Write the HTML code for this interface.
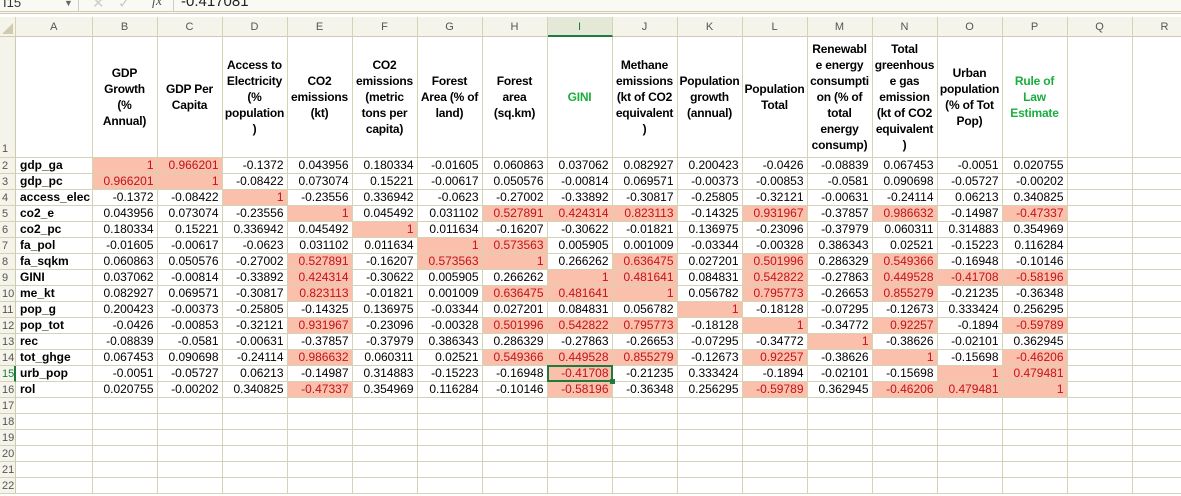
<!DOCTYPE html>
<html><head><meta charset="utf-8">
<style>
body{margin:0;width:1181px;height:496px;overflow:hidden;background:#fff;font-family:"Liberation Sans",Arial,sans-serif;position:relative}
.a{position:absolute;box-sizing:border-box}
.cell{border-right:1px solid #d6d2b4;border-bottom:1px solid #d6d2b4;font-size:12px;line-height:15px;text-align:right;padding-right:3px;white-space:nowrap;overflow:hidden}
.hi{background:#fbc0ab;color:#c0121c}
.ch{background:#f4f4ea;border-right:1px solid #d6d2b4;border-bottom:1px solid #cfcbb0;font-size:11px;color:#555;text-align:center;line-height:20px}
.rh{background:#f4f4ea;border-right:1px solid #cfcbb0;border-bottom:1px solid #d6d2b4;font-size:11px;color:#555;text-align:left;padding-left:2px;line-height:16px}
.hd{border-right:1px solid #d6d2b4;border-bottom:1px solid #d6d2b4;font-size:12px;font-weight:bold;line-height:16px;text-align:center;display:flex;align-items:center;justify-content:center;letter-spacing:-0.2px}
</style></head><body>
<div class="a" style="left:0;top:0;width:1181px;height:14px;background:#fafaf5;border-bottom:3px double #cfcbb0;overflow:hidden">
 <div class="a" style="left:3px;top:-5px;font-size:13px;color:#333">I15</div>
 <div class="a" style="left:64px;top:-2px;font-size:9px;color:#666">▼</div>
 <div class="a" style="left:78px;top:0;width:1px;height:14px;background:#ccc"></div>
 <div class="a" style="left:92px;top:-6px;font-size:15px;color:#ccc">✕</div>
 <div class="a" style="left:118px;top:-6px;font-size:15px;color:#ccc">✓</div>
 <div class="a" style="left:152px;top:-6px;font-size:14px;font-style:italic;color:#555;font-family:'Liberation Serif',serif">fx</div>
 <div class="a" style="left:173px;top:0;width:1px;height:14px;background:#ccc"></div>
 <div class="a" style="left:181px;top:-7px;font-size:15px;color:#222">-0.417081</div>
</div>
<div id="sheet"></div>
<script>
const cols=["A","B","C","D","E","F","G","H","I","J","K","L","M","N","O","P","Q","R"];
const headers=["GDP<br>Growth<br>(%<br>Annual)","GDP Per<br>Capita","Access to<br>Electricity<br>(%<br>population<br>)","CO2<br>emissions<br>(kt)","CO2<br>emissions<br>(metric<br>tons per<br>capita)","Forest<br>Area (% of<br>land)","Forest<br>area<br>(sq.km)","GINI","Methane<br>emissions<br>(kt of CO2<br>equivalent<br>)","Population<br>growth<br>(annual)","Population<br>Total","Renewabl<br>e energy<br>consumpti<br>on (% of<br>total<br>energy<br>consump)","Total<br>greenhous<br>e gas<br>emission<br>(kt of CO2<br>equivalent<br>)","Urban<br>population<br>(% of Tot<br>Pop)","Rule of<br>Law<br>Estimate"];
const greenHeaders=[7,14];
const rowLabels=["gdp_ga","gdp_pc","access_elec","co2_e","co2_pc","fa_pol","fa_sqkm","GINI","me_kt","pop_g","pop_tot","rec","tot_ghge","urb_pop","rol"];
const r0=[1,0.966201,-0.1372,0.043956,0.180334,-0.01605,0.060863,0.037062,0.082927,0.200423,-0.0426,-0.08839,0.067453,-0.0051,0.020755];
const r1=[0.966201,1,-0.08422,0.073074,0.15221,-0.00617,0.050576,-0.00814,0.069571,-0.00373,-0.00853,-0.0581,0.090698,-0.05727,-0.00202];
const r2=[-0.1372,-0.08422,1,-0.23556,0.336942,-0.0623,-0.27002,-0.33892,-0.30817,-0.25805,-0.32121,-0.00631,-0.24114,0.06213,0.340825];
const r3=[0.043956,0.073074,-0.23556,1,0.045492,0.031102,0.527891,0.424314,0.823113,-0.14325,0.931967,-0.37857,0.986632,-0.14987,-0.47337];
const r4=[0.180334,0.15221,0.336942,0.045492,1,0.011634,-0.16207,-0.30622,-0.01821,0.136975,-0.23096,-0.37979,0.060311,0.314883,0.354969];
const r5=[-0.01605,-0.00617,-0.0623,0.031102,0.011634,1,0.573563,0.005905,0.001009,-0.03344,-0.00328,0.386343,0.02521,-0.15223,0.116284];
const r6=[0.060863,0.050576,-0.27002,0.527891,-0.16207,0.573563,1,0.266262,0.636475,0.027201,0.501996,0.286329,0.549366,-0.16948,-0.10146];
const r7=[0.037062,-0.00814,-0.33892,0.424314,-0.30622,0.005905,0.266262,1,0.481641,0.084831,0.542822,-0.27863,0.449528,-0.41708,-0.58196];
const r8=[0.082927,0.069571,-0.30817,0.823113,-0.01821,0.001009,0.636475,0.481641,1,0.056782,0.795773,-0.26653,0.855279,-0.21235,-0.36348];
const r9=[0.200423,-0.00373,-0.25805,-0.14325,0.136975,-0.03344,0.027201,0.084831,0.056782,1,-0.18128,-0.07295,-0.12673,0.333424,0.256295];
const r10=[-0.0426,-0.00853,-0.32121,0.931967,-0.23096,-0.00328,0.501996,0.542822,0.795773,-0.18128,1,-0.34772,0.92257,-0.1894,-0.59789];
const r11=[-0.08839,-0.0581,-0.00631,-0.37857,-0.37979,0.386343,0.286329,-0.27863,-0.26653,-0.07295,-0.34772,1,-0.38626,-0.02101,0.362945];
const r12=[0.067453,0.090698,-0.24114,0.986632,0.060311,0.02521,0.549366,0.449528,0.855279,-0.12673,0.92257,-0.38626,1,-0.15698,-0.46206];
const r13=[-0.0051,-0.05727,0.06213,-0.14987,0.314883,-0.15223,-0.16948,-0.41708,-0.21235,0.333424,-0.1894,-0.02101,-0.15698,1,0.479481];
const r14=[0.020755,-0.00202,0.340825,-0.47337,0.354969,0.116284,-0.10146,-0.58196,-0.36348,0.256295,-0.59789,0.362945,-0.46206,0.479481,1];
const matrix=[r0,r1,r2,r3,r4,r5,r6,r7,r8,r9,r10,r11,r12,r13,r14];
const threshold=0.4;

const sheet=document.getElementById('sheet');
const RH=16, COLW=65, AX=16, BX=92.5, HTOP=17, HH=20, R1TOP=37, R1H=120.5;
function colX(c){return c===0?AX:BX+(c-1)*COLW;}
function colW(c){return c===0?BX-AX:COLW;}
function rowY(r){return r===1?R1TOP:R1TOP+R1H+(r-2)*RH;}
function rowH(r){return r===1?R1H:RH;}
function box(x,y,w,h,cls,html){const d=document.createElement('div');d.className='a '+cls;d.style.left=x+'px';d.style.top=y+'px';d.style.width=w+'px';d.style.height=h+'px';d.innerHTML=html;sheet.appendChild(d);return d;}

const corner=box(0,HTOP,AX,HH,'ch','<div style="position:absolute;right:2px;bottom:2px;width:0;height:0;border-left:11px solid transparent;border-bottom:11px solid #cfcbb0"></div>');


cols.forEach((c,i)=>{
  const d=box(colX(i),HTOP,colW(i),HH,'ch',c);
  
  
  if(c==='I'){d.style.background='#e4e8d6';d.style.borderBottom='2px solid #1e7b3e';d.style.color='#1e7b3e';}
});
const NROWS=22;
for(let r=1;r<=NROWS;r++){
  const d=box(0,rowY(r),AX,rowH(r),'rh',String(r));
  
  
  if(r===1){d.style.lineHeight='16px';d.style.paddingTop=(R1H-17)+'px';}
  if(r===15){d.style.borderRight='2px solid #1e7b3e';d.style.color='#1e7b3e';}
}
for(let c=0;c<cols.length;c++){
  const html=(c>=1&&c<=headers.length)?headers[c-1]:'';
  const d=box(colX(c),R1TOP,colW(c),R1H,'hd',html);
  
  
  if(greenHeaders.includes(c-1))d.style.color='#1aae3e';
}
for(let r=2;r<=NROWS;r++){
  const i=r-2;
  for(let c=0;c<cols.length;c++){
    let html='',cls='cell',name='empty-cell';
    if(i<rowLabels.length){
      if(c===0){html=rowLabels[i];name='row-label-'+rowLabels[i];}
      else if(c<=matrix[i].length){
        const v=matrix[i][c-1];html=String(v);name='corr-'+rowLabels[i]+'-'+rowLabels[c-1];
        if(Math.abs(v)>=threshold)cls+=' hi';
      }
    }
    const d=box(colX(c),rowY(r),colW(c),rowH(r),cls,html);
    
    
    if(c===0){d.style.textAlign='left';d.style.fontWeight='bold';d.style.paddingLeft='4px';d.style.color='#000';d.style.background='#fff';}
  }
}
const sel=box(colX(8)-1,rowY(15)-1,COLW+1,RH+1,'','');
sel.style.border='2px solid #1e7b3e';


const hdl=box(colX(9)-3,rowY(16)-3,5,5,'','');
hdl.style.background='#1e7b3e';


</script>
</body></html>
